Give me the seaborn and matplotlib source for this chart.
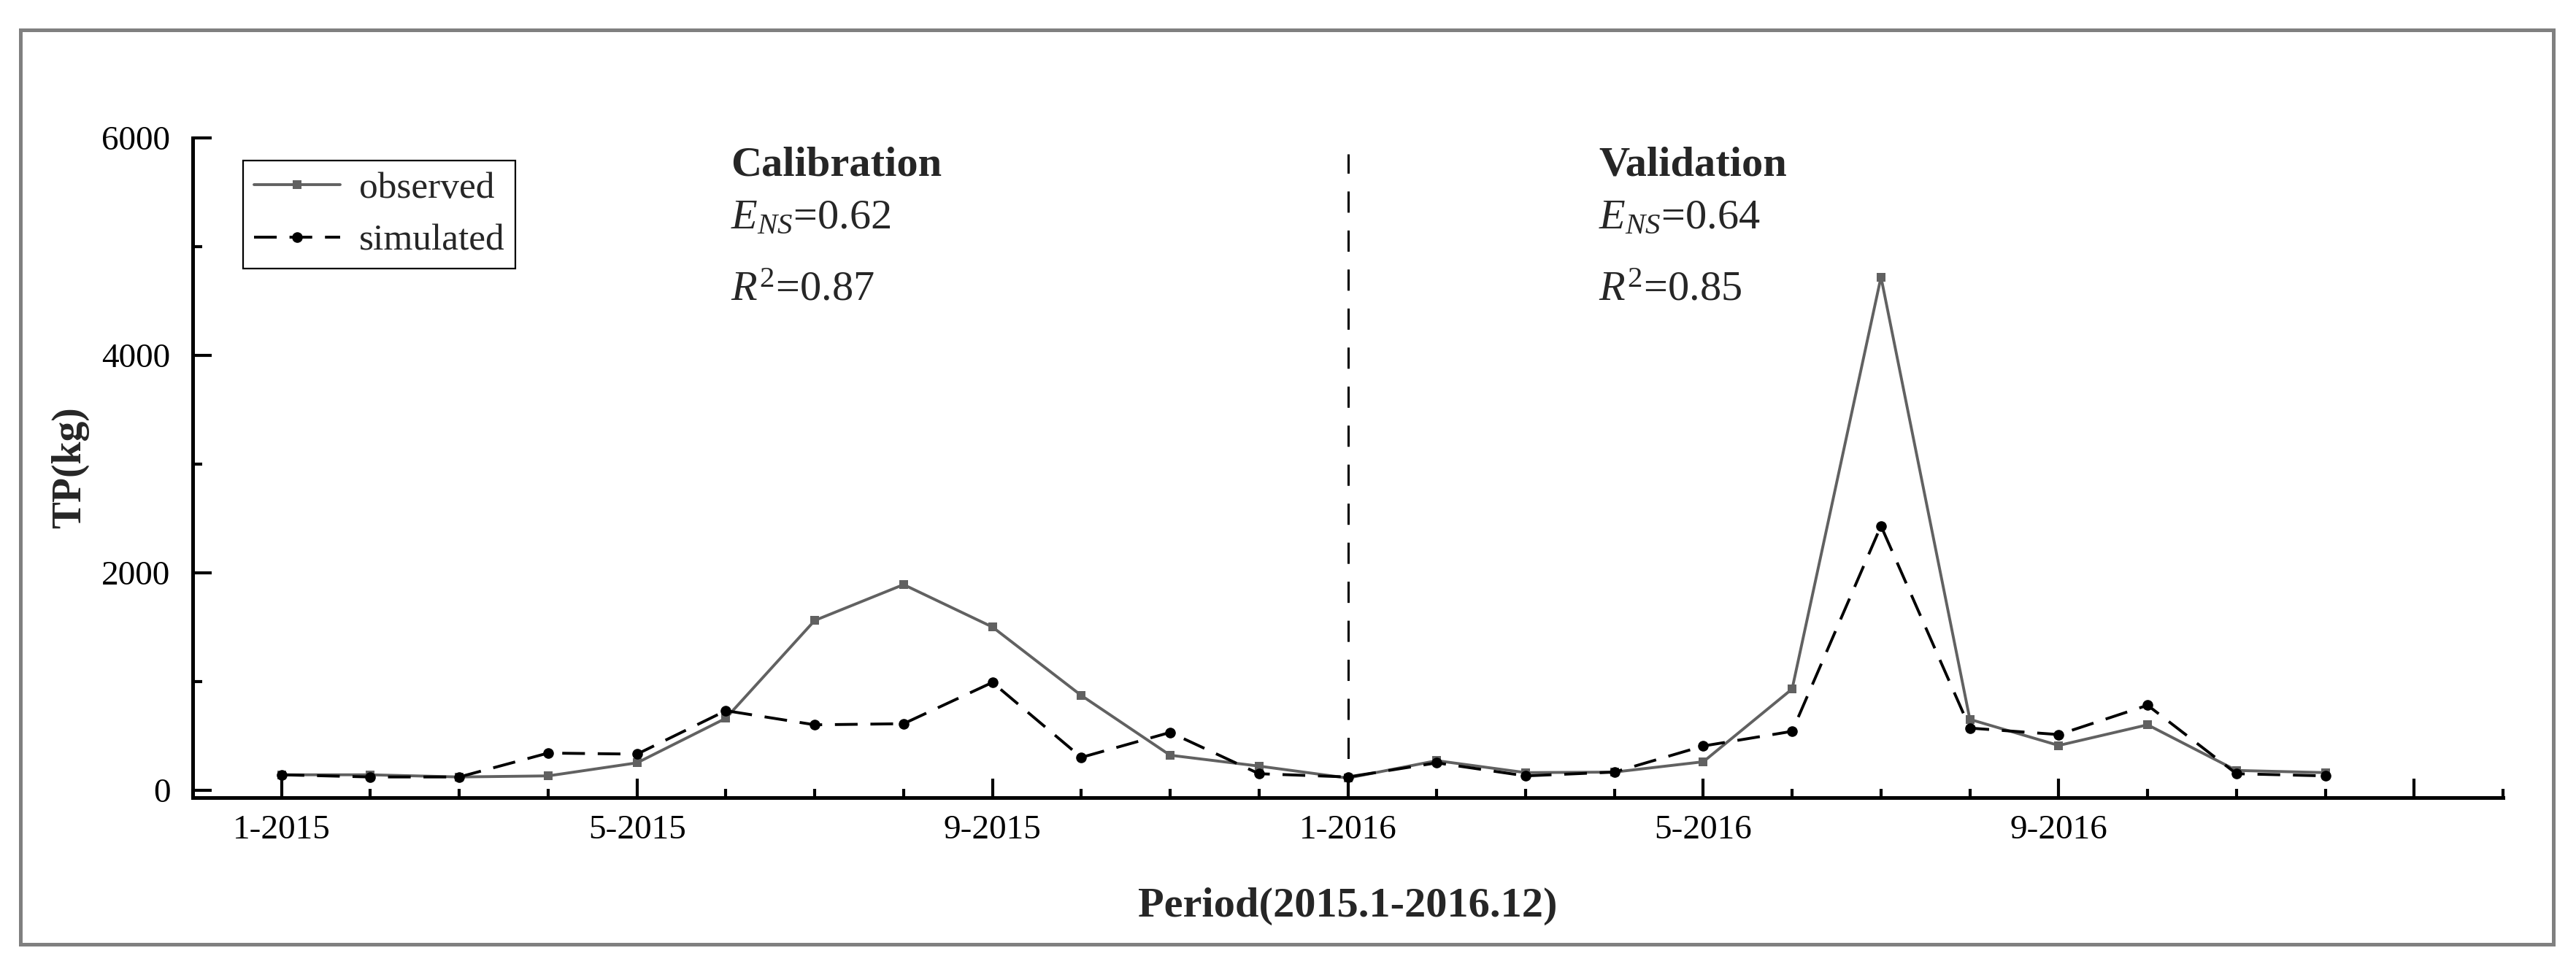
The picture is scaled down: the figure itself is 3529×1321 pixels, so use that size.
import numpy as np
import pandas as pd
import matplotlib
matplotlib.use("Agg")
import matplotlib.pyplot as plt
import seaborn as sns
from matplotlib.patches import Rectangle
from matplotlib.ticker import MultipleLocator, FixedLocator

# ---------------- data ----------------
months = [f"{m}-{y}" for y in (2015, 2016) for m in range(1, 13)]
observed = [140, 140, 120, 130, 250, 660, 1560, 1890, 1500, 870, 320, 220,
            110, 270, 160, 165, 260, 930, 4720, 650, 410, 600, 180, 160]
simulated = [140, 120, 120, 340, 330, 730, 600, 610, 990, 300, 530, 150,
             120, 250, 130, 165, 405, 540, 2430, 570, 510, 780, 150, 130]
x_tick_labels = ["1-2015", "5-2015", "9-2015", "1-2016", "5-2016", "9-2016", ""]
y_ticks = [0, 2000, 4000, 6000]
divider_month = "1-2016"
divider_top = 5850
cal_stats = ["Calibration", r"$E_{NS}$=0.62", r"$R^{2}$=0.87"]
val_stats = ["Validation", r"$E_{NS}$=0.64", r"$R^{2}$=0.85"]

# ---------------- style ----------------
sns.set_style("white")
plt.rcParams["font.family"] = ["Liberation Serif", "DejaVu Serif"]
plt.rcParams["mathtext.fontset"] = "custom"
plt.rcParams["mathtext.rm"] = "Liberation Serif"
plt.rcParams["mathtext.it"] = "Liberation Serif:italic"
plt.rcParams["mathtext.bf"] = "Liberation Serif:bold"

W, H = 3530, 1321
fig = plt.figure(figsize=(W / 100, H / 100), dpi=100)
ax = fig.add_axes([264 / W, 228 / H, (3429 - 264) / W, 904 / H])

df = pd.DataFrame({"idx": np.arange(len(months)), "month": months,
                   "observed": observed, "simulated": simulated})

sns.lineplot(data=df, x="idx", y="observed", ax=ax, color="#616161", lw=2.8,
             marker="s", markersize=8.5, markeredgewidth=0, label="observed")
sns.lineplot(data=df, x="idx", y="simulated", ax=ax, color="black", lw=2.8,
             linestyle=(0, (8, 4.5)), marker="o", markersize=10.5,
             markeredgewidth=0, label="simulated")

ymin = -70
ax.set_xlim(-1, len(months) + 1)
ax.set_ylim(ymin, 6000)

split = months.index(divider_month)
ax.vlines(split, ymin, divider_top, colors="black", lw=2.2,
          linestyles=[(0, (9.5, 8))])

ax.xaxis.set_major_locator(FixedLocator(list(range(0, 25, 4))))
ax.set_xticklabels(x_tick_labels)
ax.xaxis.set_minor_locator(MultipleLocator(1))
ax.yaxis.set_major_locator(FixedLocator(y_ticks))
ax.yaxis.set_minor_locator(MultipleLocator(1000))
ax.tick_params(which="both", direction="in", width=3, color="black",
               bottom=True, left=True, top=False, right=False)
ax.tick_params(which="major", length=19)
ax.tick_params(which="minor", length=9)
ax.tick_params(axis="x", which="major", labelsize=34, pad=17, labelcolor="black")
ax.tick_params(axis="y", which="major", labelsize=34, pad=22, labelcolor="black")

for s in ["top", "right"]:
    ax.spines[s].set_visible(False)
for s in ["left", "bottom"]:
    ax.spines[s].set_linewidth(3.6)
    ax.spines[s].set_color("black")

ax.set_xlabel("Period(2015.1-2016.12)", fontsize=42, fontweight="bold")
ax.xaxis.set_label_coords(0.5, -0.136)
ax.set_ylabel("TP(kg)", fontsize=40, fontweight="bold")
ax.yaxis.set_label_coords(-0.0449, 0.5)

leg = ax.legend(loc="upper left", bbox_to_anchor=(333 / W, 1 - 220 / H),
                bbox_transform=fig.transFigure, frameon=True, fancybox=False,
                edgecolor="black", framealpha=1, fontsize=37, handlelength=2.3,
                handletextpad=0.5, borderpad=0.29, labelspacing=0.48,
                borderaxespad=0)
leg.get_frame().set_linewidth(1.6)

for xpos, stats in [(0.233, cal_stats), (0.6085, val_stats)]:
    ax.text(xpos, 0.9425, stats[0], transform=ax.transAxes, fontsize=42,
            fontweight="bold", va="baseline")
    ax.text(xpos, 0.863, stats[1], transform=ax.transAxes, fontsize=42,
            va="baseline")
    ax.text(xpos, 0.754, stats[2], transform=ax.transAxes, fontsize=42,
            va="baseline")

fig.patches.append(Rectangle((28 / W, 27 / H), (3498 - 28) / W, (1294 - 41) / H,
                             transform=fig.transFigure, fill=False,
                             edgecolor="#808080", lw=3.6))

fig.savefig("out.png", dpi=100)
